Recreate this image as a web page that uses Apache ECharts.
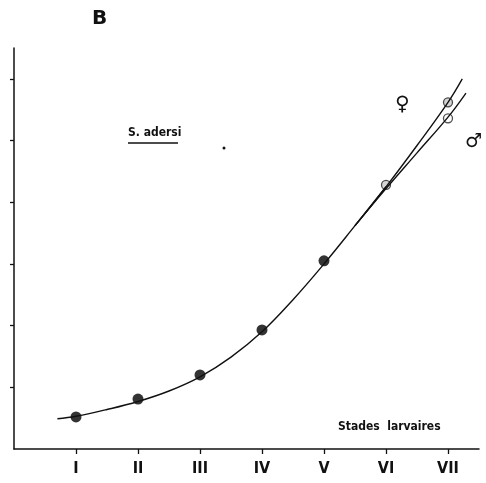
<!DOCTYPE html>
<html>
<head>
<meta charset="utf-8">
<script src="https://cdn.jsdelivr.net/npm/echarts@6/dist/echarts.min.js"></script>
<style>
  html, body { margin: 0; padding: 0; background: #fff; }
  #chart { width: 486px; height: 483px; }
</style>
</head>
<body>
<div id="chart"></div>
<script>
// stades larvaires I..VII
const stages = ['I', 'II', 'III', 'IV', 'V', 'VI', 'VII']
const stageTicks = [1, 2, 3, 4, 5, 6, 7]
const valueTicks = [1, 2, 3, 4, 5, 6]
// measured points (stage index, value)
const pointsCommon = [[1, 0.52], [2, 0.81], [3, 1.2], [4, 1.93], [5, 3.05]]
const pointFemale = [[6, 4.28], [7, 5.62]]
const pointMale = [[7, 5.36]]
// fitted curves
const curveCommon = [[0.7, 0.49], [1, 0.53], [1.5, 0.64], [2, 0.77], [2.5, 0.94], [3, 1.17],
  [3.5, 1.49], [4, 1.9], [4.5, 2.42], [5, 3.0], [5.5, 3.62], [6, 4.25]]
const curveFemale = [[5.5, 3.62], [6, 4.25], [6.5, 4.92], [7, 5.62], [7.23, 6.0]]
const curveMale = [[5.5, 3.62], [6, 4.22], [6.5, 4.8], [7, 5.38], [7.29, 5.77]]

const chart = echarts.init(document.getElementById('chart'))

const lineStyle = { color: '#111', width: 1.4 }

chart.setOption({
  animation: false,
  grid: { left: 14, right: 7, top: 48, bottom: 34 },
  xAxis: {
    type: 'value',
    min: 0,
    max: 7.5,
    interval: 1,
    splitLine: { show: false },
    axisLine: { lineStyle: { color: '#111', width: 1.5 } },
    axisTick: { length: 5, customValues: stageTicks, lineStyle: { color: '#111', width: 1.3 } },
    axisLabel: {
      margin: 12,
      color: '#111',
      fontSize: 16,
      fontWeight: 'bold',
      fontFamily: 'DejaVu Sans Condensed',
      customValues: stageTicks,
      formatter: v => stages[v - 1] || ''
    }
  },
  yAxis: {
    type: 'value',
    min: 0,
    max: 6.5,
    interval: 1,
    splitLine: { show: false },
    axisLine: { lineStyle: { color: '#111', width: 1.5 } },
    axisTick: { length: 4, customValues: valueTicks, lineStyle: { color: '#111', width: 1.3 } },
    axisLabel: { show: false }
  },
  series: [
    { type: 'line', data: curveCommon, smooth: 0.4, showSymbol: false, lineStyle },
    { type: 'line', data: curveFemale, smooth: 0.4, showSymbol: false, lineStyle },
    { type: 'line', data: curveMale, smooth: 0.4, showSymbol: false, lineStyle },
    {
      type: 'scatter', data: pointsCommon, symbolSize: 11,
      itemStyle: { color: '#000' }
    },
    {
      type: 'scatter', data: pointFemale, symbolSize: 9,
      itemStyle: { color: '#ccc', borderColor: '#222', borderWidth: 1.3 }
    },
    {
      type: 'scatter', data: pointMale, symbolSize: 9,
      itemStyle: { color: '#fff', borderColor: '#222', borderWidth: 1.3 }
    }
  ],
  graphic: [
    {
      type: 'text', left: 92, top: 9,
      style: { text: 'B', fontSize: 20, fontWeight: 'bold', fontFamily: 'DejaVu Sans', fill: '#111' }
    },
    {
      type: 'text', left: 128, top: 127,
      style: { text: 'S. adersi', fontSize: 12, fontWeight: 'bold', fontFamily: 'DejaVu Sans Condensed', fill: '#111' }
    },
    {
      type: 'line', shape: { x1: 128, y1: 143, x2: 178, y2: 143 },
      style: { stroke: '#111', lineWidth: 1.5 }
    },
    {
      type: 'circle', shape: { cx: 224, cy: 148, r: 1.5 },
      style: { fill: '#111' }
    },
    {
      type: 'text', left: 395, top: 95,
      style: { text: '♀', fontSize: 20, fontFamily: 'DejaVu Sans', fill: '#111' }
    },
    {
      type: 'text', left: 465, top: 133,
      style: { text: '♂', fontSize: 19, fontFamily: 'DejaVu Sans', fill: '#111' }
    },
    {
      type: 'text', left: 338, top: 421,
      style: { text: 'Stades  larvaires', fontSize: 12, fontWeight: 'bold', fontFamily: 'DejaVu Sans Condensed', fill: '#111' }
    }
  ]
})
</script>
</body>
</html>
